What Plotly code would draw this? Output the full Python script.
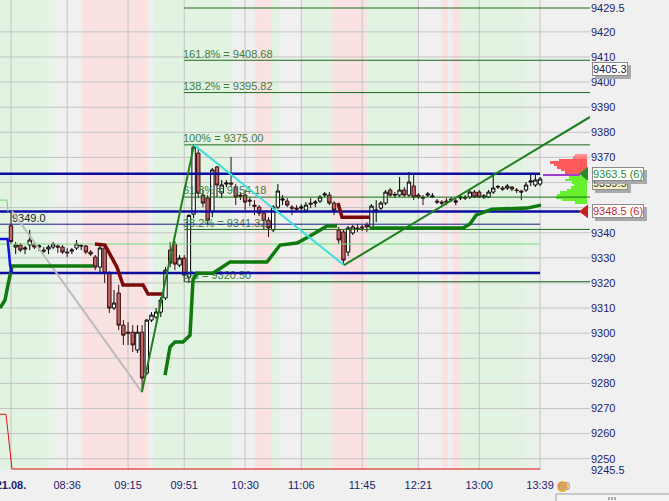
import plotly.graph_objects as go

# ---------------- data ----------------
# time axis: minutes after 08:00 on 21.08., 3-minute bars
tick_minutes = [0, 36, 75, 111, 150, 186, 225, 261, 300, 339]
tick_labels = ["<b>21.08.</b>", "08:36", "09:15", "09:51", "10:30", "11:06",
               "11:45", "12:21", "13:00", "13:39"]

price_ticks = [9245.5, 9250, 9260, 9270, 9280, 9290, 9300, 9310, 9320, 9330, 9340,
               9370, 9380, 9390, 9400, 9410, 9420, 9429.5]
grid_levels = [9250, 9260, 9270, 9280, 9290, 9300, 9310, 9320, 9330, 9340, 9350,
               9360, 9370, 9380, 9390, 9400, 9410, 9420]

bar_open = [9342.8, 9334.3, 9335.1, 9333.5, 9335.1, 9335.5, 9334.3, 9333.1, 9333.5, 9334.3,
            9334.7, 9334.3, 9332.3, 9332.7, 9333.9, 9334.7, 9334.7, 9332.3, 9330.3, 9326.3,
            9333.9, 9323.9, 9310.0, 9316.0, 9303.2, 9300.4, 9300.4, 9293.3, 9300.4, 9284.1,
            9305.2, 9306.4, 9308.4, 9314.0, 9333.1, 9335.5, 9327.1, 9329.9, 9322.3, 9347.4,
            9371.7, 9355.0, 9353.8, 9348.2, 9366.2, 9355.8, 9359.4, 9359.8, 9358.2, 9355.0,
            9355.0, 9353.0, 9351.0, 9350.2, 9347.8, 9345.0, 9341.1, 9350.2, 9353.0, 9352.6,
            9350.2, 9349.8, 9349.8, 9349.0, 9351.8, 9351.8, 9352.6, 9355.0, 9355.0, 9351.8,
            9341.1, 9340.3, 9332.3, 9339.9, 9341.9, 9342.3, 9343.1, 9341.9, 9348.6, 9349.8,
            9351.8, 9357.0, 9355.0, 9355.0, 9357.0, 9355.0, 9358.6, 9355.0, 9354.2, 9355.0,
            9354.2, 9352.6, 9352.2, 9352.6, 9353.4, 9352.2, 9353.8, 9354.2, 9354.2, 9356.2,
            9356.2, 9354.2, 9354.2, 9356.2, 9358.2, 9357.8, 9357.8, 9358.2, 9357.0, 9356.6,
            9357.0, 9360.2, 9359.0, 9359.4]
bar_high = [9348.6, 9336.3, 9335.9, 9334.7, 9341.1, 9336.3, 9335.5, 9334.3, 9335.1, 9336.3,
            9335.5, 9335.1, 9333.9, 9333.9, 9337.1, 9335.5, 9335.1, 9333.1, 9331.1, 9335.1,
            9334.7, 9324.7, 9317.2, 9319.2, 9305.2, 9304.4, 9303.2, 9303.2, 9303.2, 9305.6,
            9308.4, 9310.0, 9314.4, 9326.3, 9336.3, 9336.7, 9331.1, 9331.1, 9347.4, 9375.0,
            9374.1, 9357.0, 9355.0, 9365.8, 9366.6, 9361.0, 9361.0, 9370.2, 9359.4, 9356.2,
            9357.0, 9354.2, 9353.0, 9351.0, 9348.6, 9346.2, 9351.0, 9359.4, 9355.0, 9353.8,
            9351.0, 9351.0, 9351.4, 9352.2, 9353.8, 9353.0, 9355.0, 9356.2, 9356.2, 9352.6,
            9342.3, 9341.1, 9342.7, 9343.1, 9343.5, 9343.1, 9344.2, 9351.4, 9353.0, 9352.6,
            9357.0, 9357.8, 9356.2, 9362.2, 9358.2, 9364.2, 9363.0, 9355.8, 9355.0, 9356.2,
            9355.8, 9353.4, 9353.0, 9353.8, 9354.2, 9353.4, 9355.0, 9355.0, 9357.0, 9357.0,
            9357.0, 9355.4, 9357.0, 9363.8, 9359.0, 9358.6, 9359.4, 9358.6, 9357.8, 9357.0,
            9360.2, 9363.0, 9363.8, 9362.2]
bar_low = [9335.5, 9331.5, 9332.3, 9331.5, 9333.1, 9333.5, 9332.7, 9331.9, 9331.5, 9333.5,
           9331.9, 9331.5, 9330.3, 9331.5, 9333.1, 9333.1, 9331.5, 9330.7, 9325.1, 9323.5,
           9320.0, 9308.0, 9309.2, 9301.2, 9295.3, 9295.3, 9292.5, 9292.1, 9276.5, 9283.3,
           9304.4, 9305.6, 9306.4, 9313.2, 9326.3, 9325.1, 9326.3, 9320.4, 9320.0, 9345.8,
           9353.8, 9350.2, 9343.1, 9346.2, 9354.2, 9353.8, 9358.2, 9358.2, 9351.0, 9353.0,
           9349.0, 9350.6, 9347.0, 9346.6, 9341.1, 9338.3, 9340.3, 9349.4, 9351.0, 9350.2,
           9347.0, 9348.2, 9347.8, 9347.8, 9349.8, 9350.2, 9351.8, 9354.2, 9351.0, 9347.0,
           9335.5, 9327.1, 9330.7, 9339.1, 9340.3, 9340.7, 9340.3, 9341.1, 9344.2, 9349.0,
           9351.0, 9354.2, 9353.8, 9354.2, 9354.2, 9354.2, 9353.0, 9353.4, 9351.0, 9354.2,
           9353.8, 9351.4, 9350.6, 9351.0, 9352.2, 9351.0, 9353.0, 9353.0, 9353.4, 9353.8,
           9353.8, 9353.4, 9353.8, 9355.4, 9357.4, 9356.6, 9357.0, 9356.6, 9355.8, 9353.0,
           9356.2, 9358.6, 9358.2, 9358.6]
bar_close = [9336.5, 9335.1, 9333.1, 9333.9, 9337.1, 9334.3, 9334.7, 9332.7, 9334.3, 9335.5,
             9334.3, 9332.3, 9332.0, 9333.1, 9335.5, 9334.9, 9332.3, 9331.5, 9326.3, 9333.9,
             9323.9, 9310.0, 9312.0, 9303.2, 9299.2, 9300.0, 9295.3, 9300.4, 9282.1, 9305.2,
             9307.2, 9308.4, 9313.2, 9325.1, 9327.9, 9327.5, 9329.9, 9323.1, 9346.9, 9374.1,
             9355.8, 9351.8, 9345.0, 9365.0, 9359.0, 9359.0, 9359.8, 9359.4, 9354.2, 9354.6,
             9352.2, 9352.6, 9350.6, 9347.8, 9345.0, 9341.9, 9350.2, 9356.6, 9353.4, 9351.0,
             9349.8, 9349.4, 9350.2, 9351.0, 9351.4, 9352.2, 9354.2, 9355.4, 9351.8, 9349.0,
             9337.1, 9329.1, 9341.9, 9342.3, 9341.5, 9341.9, 9342.3, 9350.6, 9349.0, 9351.8,
             9356.2, 9355.0, 9355.2, 9357.0, 9355.0, 9360.2, 9354.2, 9354.2, 9353.8, 9355.4,
             9354.6, 9352.2, 9351.8, 9352.2, 9353.0, 9352.6, 9354.2, 9353.8, 9356.2, 9354.2,
             9354.2, 9354.6, 9356.2, 9357.8, 9358.4, 9357.4, 9358.6, 9357.4, 9356.8, 9356.2,
             9359.0, 9360.6, 9361.0, 9361.4]
bar_minutes = [3 * i for i in range(len(bar_open))]

# background session bands (start minute, end minute, state)
band_start = [-7.05, 23, 28, 45.5, 88, 91, 142, 156, 167, 172, 186.5, 206, 228, 261, 276, 280, 283, 288, 328]
band_end = [23, 28, 45.5, 88, 91, 142, 156, 167, 172, 186.5, 206, 228, 261, 276, 280, 283, 288, 328, 339]
band_state = ["G", "L", "W", "R", "W", "G", "W", "R", "G", "W", "G", "R", "G", "W", "R", "W", "R", "G", "L"]

# Fibonacci projection
fib_names = ["200%", "161.8%", "138.2%", "100%", "61.8%", "38.2%", "0%"]
fib_levels = [9429.5, 9408.68, 9395.82, 9375.00, 9354.18, 9341.32, 9320.50]
fib_start = 111

# horizontal support / resistance lines
blue_levels = [9363.5, 9348.5, 9324.0]
blue_ends = [339, 364.6, 339]
navy_level = 9343.4
lightgreen_level = 9335.5
poc_level = 9363.0

# trailing indicator (thick) segments
ind_green_t = [[-7.05, -3.84, -1.92, 0, 0.64, 52.5],
               [98.7, 101.9, 105.1, 110.2, 114.7, 116.6, 119.2, 129.4, 140.3, 164.0, 172.4, 183.3, 191.6, 202.5, 208.9],
               [230.1, 289.7, 294.1, 298.0, 308.2, 330.7, 339.6]]
ind_green_p = [[9310.0, 9313.2, 9319.2, 9325.9, 9326.7, 9326.7],
               [9283.3, 9294.5, 9296.5, 9296.5, 9299.2, 9321.1, 9323.9, 9323.9, 9328.3, 9328.3, 9335.1, 9335.9, 9338.7, 9342.7, 9342.7],
               [9341.9, 9341.9, 9343.5, 9347.0, 9349.4, 9349.8, 9351.0]]
ind_red_t = [[53.8, 60.2, 67.9, 71.8, 84.6, 87.8, 97.4],
             [209.5, 212.1, 230.1]]
ind_red_p = [[9335.5, 9335.1, 9326.3, 9319.2, 9319.2, 9315.6, 9315.6],
             [9351.8, 9346.2, 9346.2]]
ind_blue_t = [-7.05, -2.2, -1.3, -0.6, 0.64]
ind_blue_p = [9337.5, 9337.5, 9332.0, 9327.0, 9324.0]
ind_lgreen_t = [-7.05, -2.56, -1.9]
ind_lgreen_p = [9353.0, 9353.0, 9348.2]
red_stop_t = [-7.05, -3.2, 0.64, 339]
red_stop_p = [9267.7, 9267.7, 9245.9, 9245.9]

# zig-zag swings and trend line
gray_t, gray_p = [0.64, 83.9], [9348.6, 9276.5]
up_t, up_p = [83.9, 117.3], [9276.5, 9375.0]
cyan_t, cyan_p = [117.3, 213.4], [9375.0, 9327.1]
trend_t, trend_p = [213.4, 371.0], [9327.1, 9386.1]

# volume profile (right side)
prof_red_price = [9371.0, 9370.0, 9369.0, 9368.0, 9367.0, 9366.0, 9365.0, 9364.0]
prof_red_vol = [12, 14, 28, 37, 33, 30, 26, 22]
prof_green_price = [9362.0, 9361.0, 9360.0, 9359.0, 9358.0, 9357.0, 9356.0, 9355.0, 9354.0, 9353.0, 9352.0]
prof_green_vol = [18, 22, 15, 13, 16, 20, 27, 30, 31, 25, 12]

# ---------------- styling / scales ----------------
X_MIN, X_MAX = -7.05, 371.0
Y_MIN, Y_MAX = 9245.5, 9432.69
PX_PER_MIN = 590 / (X_MAX - X_MIN)
PROFILE_RIGHT = 369.1
FONT = "Liberation Sans, Arial, sans-serif"
NAVY = "#1c1c6e"

band_colors = {"G": "#e2f3e2", "R": "#fae2e2", "W": "#f0f0f0", "L": "#e9f2e9"}

fig = go.Figure()

shapes = []
for s, e, st in zip(band_start, band_end, band_state):
    shapes.append(dict(type="rect", xref="x", yref="paper", x0=s, x1=e, y0=0, y1=1,
                       fillcolor=band_colors[st], line=dict(width=0), layer="below"))
for t in tick_minutes:
    shapes.append(dict(type="line", xref="x", yref="paper", x0=t, x1=t, y0=0, y1=1,
                       line=dict(color="#c4c4c4", width=1), layer="below"))
for g in grid_levels:
    shapes.append(dict(type="line", xref="paper", yref="y", x0=0, x1=1, y0=g, y1=g,
                       line=dict(color="#c4c4c4", width=1), layer="below"))

# Fibonacci labels (under everything)
fig.add_trace(go.Scatter(
    x=[fib_start - 0.8] * (len(fib_levels) - 1), y=fib_levels[1:],
    text=[f"{n} = {v:.2f}" for n, v in zip(fib_names[1:], fib_levels[1:])],
    mode="text", textposition="top right",
    textfont=dict(family=FONT, size=11, color="#3d7f3d"),
    hoverinfo="skip", showlegend=False, cliponaxis=False))
fig.add_trace(go.Scatter(
    x=[0.64], y=[9347.6], text=["9349.0"], mode="text", textposition="bottom right",
    textfont=dict(family=FONT, size=11, color="#202020"),
    hoverinfo="skip", showlegend=False))

# candles
fig.add_trace(go.Candlestick(
    x=bar_minutes, open=bar_open, high=bar_high, low=bar_low, close=bar_close,
    increasing=dict(fillcolor="#ffffff", line=dict(color="#000000", width=1)),
    decreasing=dict(fillcolor="#c96464", line=dict(color="#301010", width=1)),
    whiskerwidth=0, hoverinfo="skip", showlegend=False))


def seg_trace(xs, ys, color, width, dash=None):
    fig.add_trace(go.Scatter(x=xs, y=ys, mode="lines",
                             line=dict(color=color, width=width, dash=dash),
                             hoverinfo="skip", showlegend=False))


# level lines
fx, fy = [], []
for lv in fib_levels:
    fx += [fib_start, X_MAX, None]
    fy += [lv, lv, None]
seg_trace(fx, fy, "#1d6b1d", 1)
seg_trace([X_MIN, 339], [lightgreen_level] * 2, "#7ad87a", 1)
seg_trace([X_MIN, 339], [navy_level] * 2, "#1a1a8a", 1)
bx, by = [], []
for lv, e in zip(blue_levels, blue_ends):
    bx += [X_MIN, e, None]
    by += [lv, lv, None]
seg_trace(bx, by, "#0c0ca0", 2.5)
seg_trace([340.9, 364.6], [poc_level] * 2, "#a040c8", 2)
seg_trace(red_stop_t, red_stop_p, "#e01010", 1)

# swings
seg_trace(gray_t, gray_p, "#bcbcbc", 2)
seg_trace(ind_lgreen_t, ind_lgreen_p, "#6fd86f", 1)

# trailing indicator
for t, p in zip(ind_green_t, ind_green_p):
    seg_trace(t, p, "#0e7a0e", 3.5)
for t, p in zip(ind_red_t, ind_red_p):
    seg_trace(t, p, "#7a0a0a", 3.5)
seg_trace(ind_blue_t, ind_blue_p, "#1010e0", 2.5)

seg_trace(up_t, up_p, "#1d7f1d", 2)
seg_trace(cyan_t, cyan_p, "#40dede", 2)
seg_trace(trend_t, trend_p, "#1d7f1d", 2)

# volume profile
red_len = [v / PX_PER_MIN for v in prof_red_vol]
green_len = [v / PX_PER_MIN for v in prof_green_vol]
fig.add_trace(go.Bar(y=prof_red_price, x=red_len, base=[PROFILE_RIGHT - l for l in red_len],
                     orientation="h", width=1.0,
                     marker=dict(color=["#ff9090", "#ff8080"] + ["#ff5a5a"] * 6, line=dict(width=0)),
                     hoverinfo="skip", showlegend=False))
fig.add_trace(go.Bar(y=prof_green_price, x=green_len, base=[PROFILE_RIGHT - l for l in green_len],
                     orientation="h", width=1.0,
                     marker=dict(color="#66f02e", line=dict(width=0)),
                     hoverinfo="skip", showlegend=False))

# price markers (triangles)
fig.add_trace(go.Scatter(x=[367.8, 367.8], y=[9363.5, 9348.5], mode="markers",
                         marker=dict(symbol="triangle-left", size=12, color=["#2a8a2a", "#c81e1e"],
                                     line=dict(width=0)),
                         cliponaxis=False, hoverinfo="skip", showlegend=False))

# price tags on the axis
annotations = []
tags = [("9359.5", 9359.8, "#303030", "#f6f0c2"),
        ("9405.3", 9405.3, "#202040", "#ffffff"),
        ("9363.5 (6)", 9363.5, "#2f8a2f", "#ffffff"),
        ("9348.5 (6)", 9348.5, "#c82828", "#ffffff")]
for txt, yv, col, bg in tags:
    annotations.append(dict(xref="paper", yref="y", x=1.0035, y=yv, xanchor="left", yanchor="middle",
                            text=txt, showarrow=False, xshift=3, yshift=-3,
                            font=dict(family=FONT, size=11, color="#a9a9a9"),
                            bgcolor="#a9a9a9", bordercolor="#a9a9a9", borderwidth=1, borderpad=0))
    annotations.append(dict(xref="paper", yref="y", x=1.0035, y=yv, xanchor="left", yanchor="middle",
                            text=txt, showarrow=False,
                            font=dict(family=FONT, size=11, color=col),
                            bgcolor=bg, bordercolor="#8c8c8c", borderwidth=1, borderpad=0))

# small widgets below the axis
shapes.append(dict(type="circle", xref="paper", yref="paper", x0=557 / 590, x1=568 / 590,
                   y0=(470 - 492) / 470, y1=(470 - 481) / 470,
                   fillcolor="#f5ae3a", line=dict(width=0), layer="above"))
annotations.append(dict(xref="paper", yref="paper", x=556 / 590, y=(470 - 486) / 470,
                        xanchor="left", yanchor="middle", text="60", showarrow=False,
                        font=dict(family=FONT, size=11, color="#9a9a9a")))
shapes.append(dict(type="rect", xref="paper", yref="paper", x0=556 / 590, x1=680 / 590,
                   y0=(470 - 505) / 470, y1=(470 - 494) / 470,
                   fillcolor="#f4f4f4", line=dict(color="#a0a0a0", width=1), layer="above"))
for gx in (609, 612, 615):
    shapes.append(dict(type="line", xref="paper", yref="paper", x0=gx / 590, x1=gx / 590,
                       y0=(470 - 500) / 470, y1=(470 - 497) / 470,
                       line=dict(color="#606060", width=1), layer="above"))

fig.update_layout(
    width=669, height=501,
    margin=dict(l=0, r=79, t=0, b=31, autoexpand=False),
    paper_bgcolor="#f0f0f0", plot_bgcolor="#f0f0f0",
    font=dict(family=FONT, size=11, color=NAVY),
    shapes=shapes, annotations=annotations,
    showlegend=False, hovermode=False, barmode="overlay", bargap=0,
    boxgap=0.15, boxgroupgap=0.15,
    xaxis=dict(range=[X_MIN, X_MAX], tickvals=tick_minutes, ticktext=tick_labels,
               showgrid=False, zeroline=False, showline=False, automargin=False,
               ticks="outside", ticklen=5, tickcolor="rgba(0,0,0,0)",
               ticklabeloverflow="allow",
               tickfont=dict(family=FONT, size=11, color=NAVY),
               rangeslider=dict(visible=False), fixedrange=True),
    yaxis=dict(range=[Y_MIN, Y_MAX], side="right", tickvals=price_ticks,
               ticktext=[("%.1f" % v) if v % 1 else ("%d" % v) for v in price_ticks],
               showgrid=False, zeroline=False, showline=False, ticks="", automargin=False,
               ticklabeloverflow="allow",
               tickfont=dict(family=FONT, size=11, color=NAVY), fixedrange=True),
)

fig.write_html("out.html", config={"displayModeBar": False},
               post_script="document.body.style.margin='0';document.body.style.background='#f0f0f0';")
